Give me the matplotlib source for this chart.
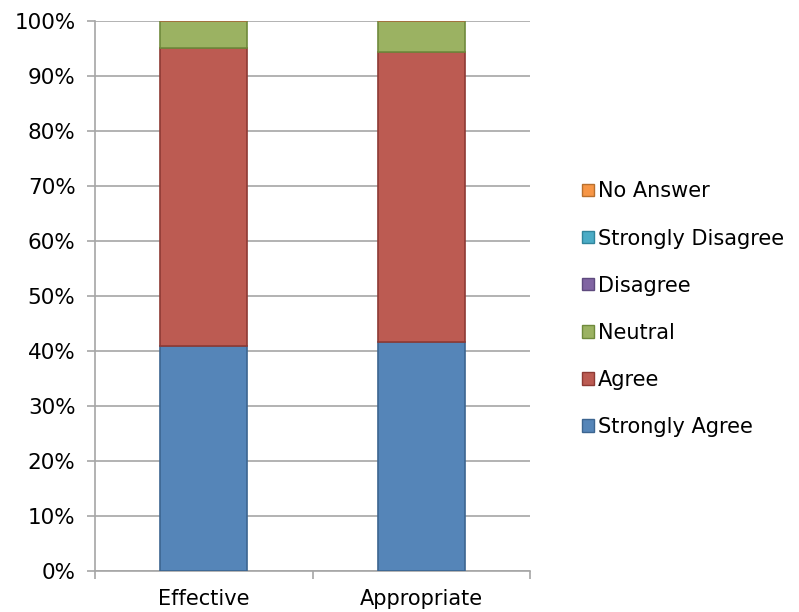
import matplotlib
matplotlib.use("Agg")
import matplotlib.pyplot as plt
from matplotlib.patches import Patch
import numpy as np

categories = ["Effective", "Appropriate"]
series_names = ["Strongly Agree", "Agree", "Neutral", "Disagree", "Strongly Disagree", "No Answer"]
strongly_agree = [40.9, 41.7]
agree = [54.2, 52.7]
neutral = [4.9, 5.6]
disagree = [0.0, 0.0]
strongly_disagree = [0.0, 0.0]
no_answer = [0.0, 0.0]
y_ticks = [0, 10, 20, 30, 40, 50, 60, 70, 80, 90, 100]

series_values = [strongly_agree, agree, neutral, disagree, strongly_disagree, no_answer]
face_colors = ["#5585B8", "#BC5B52", "#9BB262", "#8064A2", "#4BACC6", "#F79646"]
edge_colors = ["#3C6590", "#8E3A34", "#6F8A3C", "#5E4A7E", "#31859C", "#B8702E"]

plt.rcParams["font.family"] = ["DejaVu Sans"]

fig = plt.figure(figsize=(7.99, 6.12), dpi=100)
ax = fig.add_axes([95 / 799, 1 - 571 / 612, 435 / 799, 550 / 612])

x = np.arange(len(categories))
bottom = np.zeros(len(categories))
for vals, fc, ec in zip(series_values, face_colors, edge_colors):
    vals = np.array(vals, dtype=float)
    ax.bar(x, vals, width=0.4, bottom=bottom, color=fc, edgecolor=ec,
           linewidth=1.2, zorder=3)
    bottom += vals

ax.set_xlim(-0.5, len(categories) - 0.5)
ax.set_ylim(0, 100)
ax.set_yticks(y_ticks)
ax.set_yticklabels([f"{t}%" for t in y_ticks], fontsize=15.5)
ax.yaxis.grid(True, color="#A6A6A6", linewidth=1.2, zorder=0)
ax.set_axisbelow(True)

# category labels centred, tick marks at category boundaries
ax.set_xticks(x)
ax.set_xticklabels(categories, fontsize=15)
ax.tick_params(axis="x", length=0, pad=13)
ax.set_xticks(np.arange(len(categories) + 1) - 0.5, minor=True)
ax.tick_params(axis="x", which="minor", length=6, color="#A6A6A6", width=1.2)
ax.tick_params(axis="y", length=6, color="#A6A6A6", width=1.2, pad=8)

for side in ["top", "right"]:
    ax.spines[side].set_visible(False)
for side in ["left", "bottom"]:
    ax.spines[side].set_color("#A6A6A6")
    ax.spines[side].set_linewidth(1.2)

handles = [Patch(facecolor=fc, edgecolor=ec, linewidth=1.0)
           for fc, ec in zip(face_colors, edge_colors)]
fig.legend(handles[::-1], series_names[::-1], loc="upper left",
           bbox_to_anchor=(572 / 799, 1 - 171 / 612), frameon=False,
           fontsize=15, handlelength=0.55, handleheight=0.55,
           handletextpad=0.2, labelspacing=1.3, borderpad=0)

fig.savefig("out.png", dpi=100)
